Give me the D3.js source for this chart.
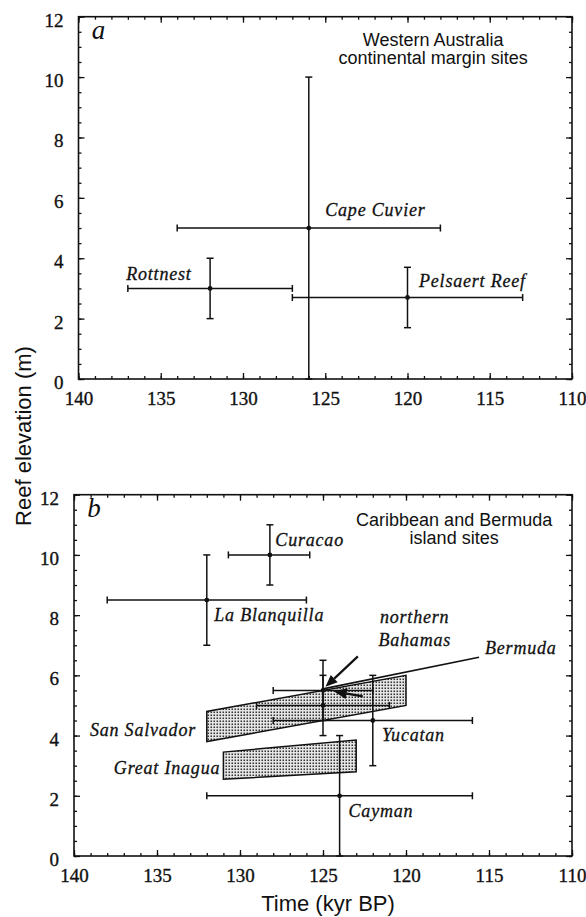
<!DOCTYPE html>
<html><head><meta charset="utf-8">
<script src="https://cdn.jsdelivr.net/npm/d3@7"></script>
<style>body{margin:0;background:#fff} svg{display:block}</style>
</head><body><svg id="c" width="586" height="917"></svg>
<script>
// ---------- data ----------
const xTickLabels = [140,135,130,125,120,115,110];
const yTickLabels = [0,2,4,6,8,10,12];

const aSites = ["Cape Cuvier","Rottnest","Pelsaert Reef"];
const aAge = [126,132,120];
const aElev = [5,3,2.7];
const aAgeOld = [134,137,127];
const aAgeYoung = [118,127,113];
const aElevLow = [0,2,1.7];
const aElevHigh = [10,4,3.7];
const aLabelAge = [125.0,137.1,119.3];
const aLabelElev = [5.4,3.28,3.06];
const aHeader = ["Western Australia","continental margin sites"];

const bSites = ["Curacao","La Blanquilla","Cayman","Yucatan","northern Bahamas","Bermuda"];
const bAge = [128.2,132,124,122,125,125];
const bElev = [10,8.5,2,4.5,5.5,5.0];
const bAgeOld = [130.7,138,132,128,128,129];
const bAgeYoung = [125.8,126,116,116,122,121];
const bElevLow = [9,7,0,3,4.5,4];
const bElevHigh = [11,10,4,6,6.5,6];

const sanSalvador = [[132,3.8],[132,4.8],[120,6.0],[120,5.0]];
const greatInagua = [[131,2.55],[131,3.45],[123,3.85],[123,2.8]];
const bermudaLine = [[125,5.55],[115.6,6.6]];
const bahamasArrow = [[122.9,6.63],[124.85,5.62]];
const bermudaArrow = [[122.6,5.3],[124.35,5.47]];

const bLabels = ["Curacao","La Blanquilla","northern","Bahamas","Bermuda","San Salvador","Yucatan","Great Inagua","Cayman"];
const bLabelAge = [127.87,131.55,121.57,121.66,115.24,139.04,121.45,137.6,123.46];
const bLabelElev = [10.28,7.79,7.74,6.96,6.72,3.99,3.83,2.73,1.31];
const bHeader = ["Caribbean and Bermuda","island sites"];

// ---------- drawing ----------
const svg = d3.select("#c");
const SERIF = "'Liberation Serif','Times New Roman',serif";
const SANS = "'Liberation Sans',Arial,Helvetica,sans-serif";

const defs = svg.append("defs");
const pat = defs.append("pattern").attr("id","stip").attr("patternUnits","userSpaceOnUse")
  .attr("width",3).attr("height",3);
pat.append("rect").attr("width",3).attr("height",3).attr("fill","#e4e4e4");
pat.append("rect").attr("x",0.5).attr("y",0.5).attr("width",1.5).attr("height",1.5).attr("fill","#333");

function panel(box, letter, header, headerAge, headerElev) {
  const x = d3.scaleLinear().domain([140,110]).range([box.l, box.r]);
  const y = d3.scaleLinear().domain([0,12]).range([box.b, box.t]);
  const g = svg.append("g");
  const minorX = d3.range(110,141,1), minorY = d3.range(0,12.01,0.5);
  const axes = [
    [d3.axisBottom(x), box.b, "x"], [d3.axisTop(x), box.t, "x"],
    [d3.axisLeft(y), box.l, "y"], [d3.axisRight(y), box.r, "y"]
  ];
  axes.forEach(([ax, pos, dir]) => {
    const tr = dir === "x" ? `translate(0,${pos})` : `translate(${pos},0)`;
    const minor = g.append("g").attr("transform", tr)
      .call(ax.tickValues(dir==="x"?minorX:minorY).tickSize(-3).tickFormat(""));
    minor.select(".domain").remove();
    const maj = g.append("g").attr("transform", tr)
      .call(ax.tickValues(dir==="x"?xTickLabels:yTickLabels).tickSize(-6).tickFormat(""));
    maj.select(".domain").remove();
    g.selectAll("line").attr("stroke","#111").attr("stroke-width",1.3);
  });
  // labels
  const xl = g.append("g").attr("transform",`translate(0,${box.b})`)
    .call(d3.axisBottom(x).tickValues(xTickLabels).tickSize(0));
  xl.select(".domain").remove();
  xl.attr("font-family",SERIF).attr("font-size",19);
  xl.selectAll("text").attr("y",26).attr("dy",0).style("font-family",SERIF).style("font-size","19px")
    .attr("fill","#111").attr("stroke","#111").attr("stroke-width",0.35);
  const yl = g.append("g").attr("transform",`translate(${box.l},0)`)
    .call(d3.axisLeft(y).tickValues(yTickLabels).tickSize(0));
  yl.select(".domain").remove();
  yl.attr("font-family",SERIF).attr("font-size",19);
  yl.selectAll("text").attr("x",-15).attr("dy","0.5em").style("font-family",SERIF).style("font-size","19px")
    .attr("fill","#111").attr("stroke","#111").attr("stroke-width",0.35);
  // frame
  g.append("rect").attr("x",box.l).attr("y",box.t).attr("width",box.r-box.l).attr("height",box.b-box.t)
    .attr("fill","none").attr("stroke","#111").attr("stroke-width",1.6);
  g.append("text").attr("x",x(139.2)).attr("y",y(11.25)).text(letter)
    .style("font-family",SERIF).style("font-style","italic").style("font-size","27px").attr("fill","#111");
  header.forEach((h,i)=>{
    g.append("text").attr("x",x(headerAge)).attr("y",y(headerElev[i])).attr("text-anchor","middle")
      .style("font-family",SANS).style("font-size","18px").attr("fill","#111").text(h);
  });
  return {x,y,g};
}

function errorBars(P, ages, elevs, old, young, lo, hi) {
  const {x,y,g} = P, c = 3.5;
  ages.forEach((a,i)=>{
    const gg = g.append("g").attr("stroke","#111").attr("stroke-width",1.5);
    gg.append("line").attr("x1",x(old[i])).attr("x2",x(young[i])).attr("y1",y(elevs[i])).attr("y2",y(elevs[i]));
    [old[i],young[i]].forEach(v=>gg.append("line").attr("x1",x(v)).attr("x2",x(v)).attr("y1",y(elevs[i])-c).attr("y2",y(elevs[i])+c));
    gg.append("line").attr("x1",x(a)).attr("x2",x(a)).attr("y1",y(lo[i])).attr("y2",y(hi[i]));
    [lo[i],hi[i]].forEach(v=>gg.append("line").attr("y1",y(v)).attr("y2",y(v)).attr("x1",x(a)-c).attr("x2",x(a)+c));
    g.append("circle").attr("cx",x(a)).attr("cy",y(elevs[i])).attr("r",2.4).attr("fill","#111");
  });
}

function labels(P, names, ages, elevs) {
  names.forEach((n,i)=>{
    P.g.append("text").attr("x",P.x(ages[i])).attr("y",P.y(elevs[i])).text(n)
      .style("font-family",SERIF).style("font-style","italic").style("font-size","18px")
      .style("letter-spacing","0.8px").attr("fill","#111").attr("stroke","#111").attr("stroke-width",0.3);
  });
}

function arrow(P, pts, L, W) {
  const {x,y,g} = P;
  const [x0,y0,x1,y1] = [x(pts[0][0]),y(pts[0][1]),x(pts[1][0]),y(pts[1][1])];
  const ang = Math.atan2(y1-y0,x1-x0);
  const bx = x1 - L*Math.cos(ang), by = y1 - L*Math.sin(ang);
  g.append("line").attr("x1",x0).attr("y1",y0).attr("x2",bx).attr("y2",by).attr("stroke","#111").attr("stroke-width",2.2);
  const px = -Math.sin(ang)*W, py = Math.cos(ang)*W;
  g.append("path").attr("d",`M${x1},${y1}L${bx+px},${by+py}L${bx-px},${by-py}Z`).attr("fill","#111");
}

// Panel a
const A = panel({l:78.5,r:572,t:16.7,b:379}, "a", aHeader, 118.44, [11.03,10.43]);
errorBars(A, aAge, aElev, aAgeOld, aAgeYoung, aElevLow, aElevHigh);
labels(A, aSites, aLabelAge, aLabelElev);

// Panel b
const B = panel({l:74,r:572,t:494.7,b:856}, "b", bHeader, 117.1, [10.97,10.37]);
const poly = d3.line().x(d=>B.x(d[0])).y(d=>B.y(d[1]));
[sanSalvador, greatInagua].forEach(p=>{
  B.g.append("path").attr("d", poly(p)+"Z").attr("fill","url(#stip)").attr("stroke","#111").attr("stroke-width",1.5);
});
errorBars(B, bAge, bElev, bAgeOld, bAgeYoung, bElevLow, bElevHigh);
B.g.append("path").attr("d", poly(bermudaLine)).attr("stroke","#111").attr("stroke-width",1.6).attr("fill","none");
arrow(B, bahamasArrow, 12, 5);
arrow(B, bermudaArrow, 13, 5.5);
labels(B, bLabels, bLabelAge, bLabelElev);

// axis titles
svg.append("text").attr("transform","translate(31,436) rotate(-90)").attr("text-anchor","middle")
  .style("font-family",SANS).style("font-size","22px").attr("fill","#111").text("Reef elevation (m)");
svg.append("text").attr("x",328).attr("y",911).attr("text-anchor","middle")
  .style("font-family",SANS).style("font-size","22px").attr("fill","#111").text("Time (kyr BP)");
</script></body></html>
